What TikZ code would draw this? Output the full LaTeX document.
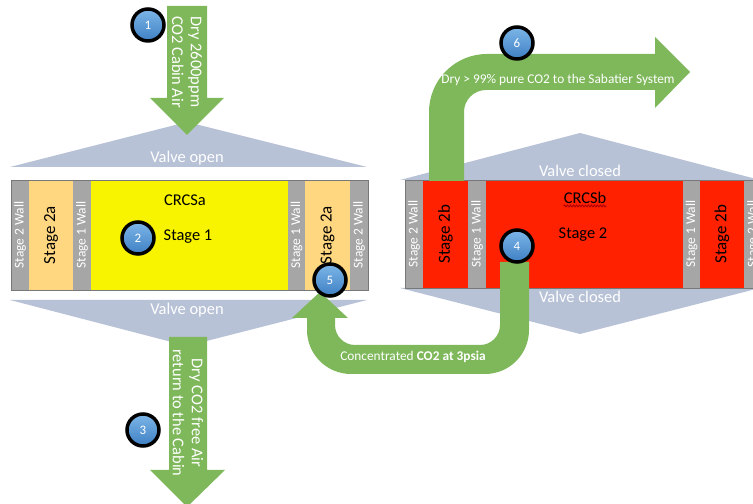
\documentclass[tikz,border=0pt]{standalone}
\usepackage{fontspec}
\setmainfont{Carlito}
\usetikzlibrary{decorations.pathmorphing}
\definecolor{flow}{RGB}{126,184,90}
\definecolor{valvec}{RGB}{184,194,214}
\definecolor{wallc}{RGB}{166,166,166}
\definecolor{stagea}{RGB}{255,215,128}
\definecolor{stageone}{RGB}{248,244,0}
\definecolor{stagered}{RGB}{255,33,0}
\definecolor{badgetop}{RGB}{125,182,232}
\definecolor{badgebot}{RGB}{62,128,196}
\definecolor{edgec}{RGB}{120,120,120}
\definecolor{squiggle}{RGB}{170,0,0}
\tikzset{
  valve/.style={fill=valvec},
  wallbox/.style={fill=wallc},
  walltext/.style={rotate=90, text=white, font=\fontsize{13.5}{15}\selectfont, inner sep=0pt},
  stagetext/.style={rotate=90, text=black, font=\fontsize{17}{19}\selectfont, inner sep=0pt},
  bigtext/.style={text=black, font=\fontsize{16.5}{19}\selectfont, inner sep=0pt},
  valvetext/.style={text=white, font=\fontsize{16.5}{19}\selectfont, inner sep=0pt},
  flowshape/.style={fill=flow},
  flowtext/.style={text=white, font=\fontsize{16.5}{19}\selectfont, inner sep=0pt, align=center},
  smallflow/.style={text=white, font=\fontsize{13.4}{16}\selectfont, inner sep=0pt},
  badge/.style={circle, draw=black, line width=3.5bp, minimum size=32bp, inner sep=0pt,
    top color=badgetop, bottom color=badgebot, text=white, font=\fontsize{13}{15}\selectfont},
  blockedge/.style={draw=edgec, line width=0.8bp}
}
\begin{document}
\begin{tikzpicture}[x=1bp,y=1bp]
\useasboundingbox (0,0) rectangle (753,504);
\clip (0,0) rectangle (753,504);

% valve triangles
\fill[valve] (10,337) -- (187,382) -- (367,337) -- cycle;
\fill[valve] (10,204) -- (187,158) -- (367,204) -- cycle;
\fill[valve] (400,324) -- (580,371) -- (760,324) -- cycle;
\fill[valve] (400,216) -- (580,170) -- (760,216) -- cycle;

\node[valvetext] (vo1) at (187,346) {Valve open};
\node[valvetext] (vo2) at (187,194) {Valve open};
\node[valvetext] (vc1) at (580,333) {Valve closed};
\node[valvetext] (vc2) at (580,207) {Valve closed};

% left block CRCSa
\fill[wallbox] (11,214) rectangle (29,324);
\fill[stagea] (29,214) rectangle (73,324);
\fill[wallbox] (73,214) rectangle (91,324);
\fill[stageone] (91,214) rectangle (288,323);
\fill[wallbox] (288,214) rectangle (305,324);
\fill[stagea] (305,214) rectangle (350,324);
\fill[wallbox] (350,214) rectangle (368,324);
\draw[blockedge] (11,214) rectangle (368,324);

\node[walltext] (la1) at (20,269) {Stage 2 Wall};
\node[stagetext] (la2) at (51,269) {Stage 2a};
\node[walltext] (la3) at (82,269) {Stage 1 Wall};
\node[bigtext] (la4) at (185,304) {CRCSa};
\node[bigtext] (la5) at (188,267) {Stage 1};
\node[walltext] (la6) at (296.5,269) {Stage 1 Wall};
\node[stagetext] (la7) at (327.5,269) {Stage 2a};
\node[walltext] (la8) at (359,269) {Stage 2 Wall};

% right block CRCSb
\fill[wallbox] (405,216) rectangle (423,324);
\fill[stagered] (423,216) rectangle (468,324);
\fill[wallbox] (468,216) rectangle (486,324);
\fill[stagered] (486,216) rectangle (683,324);
\fill[wallbox] (683,216) rectangle (700,324);
\fill[stagered] (700,216) rectangle (744,324);
\fill[wallbox] (744,216) rectangle (762,324);
\draw[blockedge] (405,216) rectangle (770,324);

\node[walltext] (rb1) at (414,270) {Stage 2 Wall};
\node[stagetext] (rb2) at (445.5,270) {Stage 2b};
\node[walltext] (rb3) at (477,270) {Stage 1 Wall};
\node[bigtext] (rb4) at (585,306) {CRCSb};
\draw[squiggle, line width=0.9bp, decorate, decoration={snake, amplitude=0.9bp, segment length=3bp}]
  ([yshift=-2bp]rb4.south west) -- ([yshift=-2bp]rb4.south east);
\node[bigtext] (rb5) at (583,269) {Stage 2};
\node[walltext] (rb6) at (691.5,270) {Stage 1 Wall};
\node[stagetext] (rb7) at (722,270) {Stage 2b};
\node[walltext] (rb8) at (753,270) {Stage 2 Wall};

% flow arrows
\fill[flowshape] (167,498) -- (207,498) -- (207,406) -- (224,406) -- (187,369) -- (150,406) -- (167,406) -- cycle;
\fill[flowshape] (169,167) -- (207,167) -- (207,34) -- (225,34) -- (187,-3) -- (150,34) -- (169,34) -- cycle;

% U-turn arrow
\fill[flowshape] (529,242) -- (529,174) arc[start angle=0, end angle=-90, radius=44]
  -- (351,130) arc[start angle=270, end angle=180, radius=44]
  -- (307,186) -- (292,186) -- (320,212) -- (348,186) -- (335,186)
  -- (335,179) arc[start angle=180, end angle=270, radius=20]
  -- (480,159) arc[start angle=270, end angle=360, radius=20]
  -- (500,242) -- cycle;

% arrow to Sabatier
\fill[flowshape] (429,323) -- (429,392) arc[start angle=180, end angle=90, radius=58]
  -- (655,450) -- (655,467) -- (690,432) -- (655,396) -- (655,414)
  -- (486,414) arc[start angle=90, end angle=180, radius=22]
  -- (464,323) -- cycle;

\node[flowtext, rotate=-90] (f1) at (187,442) {Dry 2600ppm\\CO2 Cabin Air};
\node[flowtext, rotate=-90] (f3) at (188,91) {Dry CO2 free Air\\return to the Cabin};
\node[smallflow] (f4) at (413,147) {Concentrated \textbf{CO2 at 3psia}};
\node[smallflow] (f6) at (558,424) {Dry > 99\% pure CO2 to the Sabatier System};

% badges
\node[badge] (b1) at (148,479) {1};
\node[badge] (b2) at (138,266) {2};
\node[badge] (b3) at (143,74) {3};
\node[badge] (b4) at (517,258) {4};
\node[badge] (b5) at (330,224) {5};
\node[badge] (b6) at (517,461) {6};
\end{tikzpicture}
\end{document}
